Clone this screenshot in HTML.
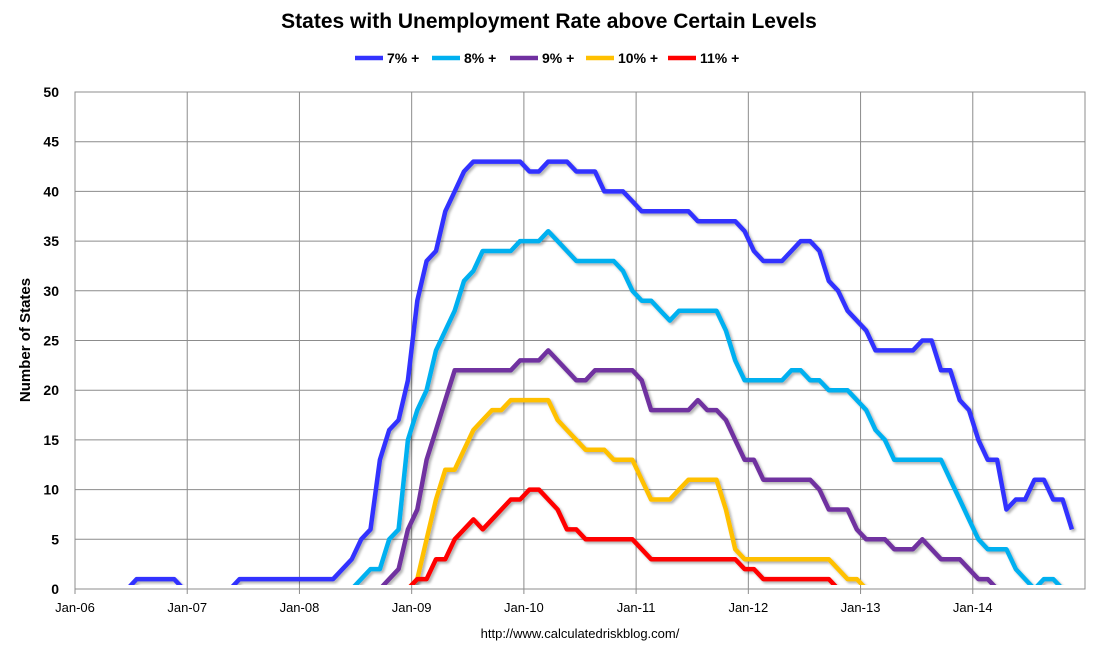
<!DOCTYPE html>
<html><head><meta charset="utf-8"><style>
body{margin:0;background:#fff;}
svg text{font-family:"Liberation Sans",Arial,sans-serif;}
</style></head><body>
<svg id="chart" width="1098" height="656" xmlns="http://www.w3.org/2000/svg">
<defs>
<clipPath id="pc"><rect x="75" y="80" width="1012" height="505"/></clipPath>
<filter id="sh" x="-5%" y="-5%" width="110%" height="110%"><feDropShadow dx="2" dy="2" stdDeviation="1.2" flood-color="#000" flood-opacity="0.3"/></filter>
</defs>
<text x="549" y="28" text-anchor="middle" font-size="21" font-weight="bold" fill="#000">States with Unemployment Rate above Certain Levels</text>
<g id="legend"></g>
<g id="grid"></g>
<g id="axes"></g>
<g id="series" clip-path="url(#pc)"></g>
<text transform="translate(30,340) rotate(-90)" text-anchor="middle" font-size="15" font-weight="bold" fill="#000">Number of States</text>
<text x="580" y="638" text-anchor="middle" font-size="13" fill="#000">http://www.calculatedriskblog.com/</text>
</svg>
<script>
const seriesNames = ["7% +","8% +","9% +","10% +","11% +"];
const seriesColors = ["#3333ff","#00b0f0","#7030a0","#ffc000","#ff0000"];
const seriesStart = [5,29,32,35,35];
const s7 = [0,1,1,1,1,1,0,0,0,0,0,0,1,1,1,1,1,1,1,1,1,1,1,2,3,5,6,13,16,17,21,29,33,34,38,40,42,43,43,43,43,43,43,42,42,43,43,43,42,42,42,40,40,40,39,38,38,38,38,38,38,37,37,37,37,37,36,34,33,33,33,34,35,35,34,31,30,28,27,26,24,24,24,24,24,25,25,22,22,19,18,15,13,13,8,9,9,11,11,9,9,6];
const s8 = [0,1,2,2,5,6,15,18,20,24,26,28,31,32,34,34,34,34,35,35,35,36,35,34,33,33,33,33,33,32,30,29,29,28,27,28,28,28,28,28,26,23,21,21,21,21,21,22,22,21,21,20,20,20,19,18,16,15,13,13,13,13,13,13,11,9,7,5,4,4,4,2,1,0,1,1,0];
const s9 = [0,1,2,6,8,13,16,19,22,22,22,22,22,22,22,23,23,23,24,23,22,21,21,22,22,22,22,22,21,18,18,18,18,18,19,18,18,17,15,13,13,11,11,11,11,11,11,10,8,8,8,6,5,5,5,4,4,4,5,4,3,3,3,2,1,1,0];
const s10 = [0,1,5,9,12,12,14,16,17,18,18,19,19,19,19,19,17,16,15,14,14,14,13,13,13,11,9,9,9,10,11,11,11,11,8,4,3,3,3,3,3,3,3,3,3,3,2,1,1,0];
const s11 = [0,1,1,3,3,5,6,7,6,7,8,9,9,10,10,9,8,6,6,5,5,5,5,5,5,4,3,3,3,3,3,3,3,3,3,3,2,2,1,1,1,1,1,1,1,1,0];
const seriesValues = [s7,s8,s9,s10,s11];
const yTicks = [0,5,10,15,20,25,30,35,40,45,50];
const xTickLabels = ["Jan-06","Jan-07","Jan-08","Jan-09","Jan-10","Jan-11","Jan-12","Jan-13","Jan-14"];

const X0=75, X1=1085, Y0=589, Y1=92, PXM=(X1-X0)/108;
const xS = m => X0 + (m+0.6)*PXM;
const xT = m => X0 + m*PXM;
const yS = v => Y0 - v*(Y0-Y1)/50;
const NS="http://www.w3.org/2000/svg";
function mk(tag, attrs, parent){const e=document.createElementNS(NS,tag);for(const k in attrs)e.setAttribute(k,attrs[k]);parent.appendChild(e);return e;}
const grid=document.getElementById('grid'), axes=document.getElementById('axes'), ser=document.getElementById('series'), leg=document.getElementById('legend');
yTicks.forEach(v=>{
  const l=mk('line',{x1:X0,x2:X1,y1:yS(v),y2:yS(v),stroke:'#8c8c8c','stroke-width':1},grid);
  
  
  const t=mk('text',{x:X0-16,y:yS(v)+5,'text-anchor':'end','font-size':14,'font-weight':'bold',fill:'#000'},axes);
  t.textContent=v;
  
  
});
xTickLabels.forEach((lab,i)=>{
  const x=xT(i*12);
  const l=mk('line',{x1:x,x2:x,y1:Y1,y2:Y0+5,stroke:'#8c8c8c','stroke-width':1},grid);
  
  
  const t=mk('text',{x:x,y:612,'text-anchor':'middle','font-size':13,fill:'#000'},axes);
  t.textContent=lab;
  
  
});
const r=mk('rect',{x:X0,y:Y1,width:X1-X0,height:Y0-Y1,fill:'none',stroke:'#8c8c8c','stroke-width':1},grid);


seriesValues.forEach((vals,si)=>{
  const pts=vals.map((v,i)=>xS(seriesStart[si]+i).toFixed(1)+','+yS(v).toFixed(1)).join(' ');
  const p=mk('polyline',{points:pts,fill:'none',stroke:seriesColors[si],'stroke-width':4.5,'stroke-linejoin':'round',filter:'url(#sh)'},ser);
  
  
});
const legX=[355,432,510,586,668];
seriesNames.forEach((n,i)=>{
  const g=mk('g',{},leg);
  
  
  mk('line',{x1:legX[i],x2:legX[i]+28,y1:58,y2:58,stroke:seriesColors[i],'stroke-width':4.5},g);
  const t=mk('text',{x:legX[i]+32,y:63,'font-size':14,'font-weight':'bold',fill:'#000'},g);
  t.textContent=n;
});
</script>
</body></html>
